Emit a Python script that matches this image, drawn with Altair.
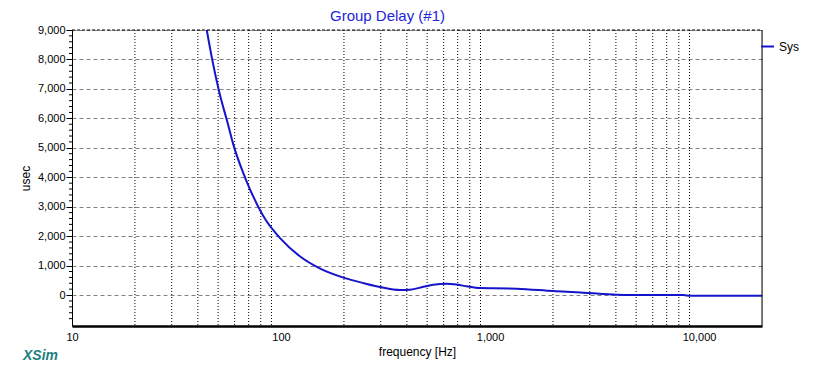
import altair as alt
import pandas as pd

# ---- data ----
freq_hz = [44, 47, 50.6, 55.5, 59.2, 67.2, 77.8, 83.8, 100, 123, 154, 199, 250, 298,
           371, 414, 480, 535, 621, 700, 773, 895, 1000, 1342, 2010, 2794, 3120, 4036,
           5000, 8420, 9060, 20000]
delay_usec = [9050, 7950, 6900, 5850, 5100, 4000, 3000, 2590, 1900, 1316, 898, 592, 400, 272,
              170, 184, 280, 354, 388, 350, 296, 238, 235, 218, 136, 82, 58, 14,
              5, 0, -25, -25]
series_name = ["Sys"]

x_label_values = [10, 100, 1000, 10000]
x_grid_values = [m * d for d in (10, 100, 1000) for m in range(2, 10)]
y_major = list(range(0, 9001, 1000))
y_minor = [v for v in range(-1000, 9001, 200) if v % 1000 != 0]

X_DOMAIN = [10, 20000]
Y_DOMAIN = [-1050, 9000]
W, H = 690, 296
FONT = "Liberation Sans"
LINE_COLOR = "#1414CC"

df = pd.DataFrame({"f": freq_hz, "d": delay_usec, "series": series_name[0]})
grid_df = pd.DataFrame({"f": x_grid_values})
minor_df = pd.DataFrame({"v": y_minor})

xscale = alt.Scale(type="log", domain=X_DOMAIN, nice=False)
yscale = alt.Scale(domain=Y_DOMAIN, nice=False, zero=False)

x_axis = alt.Axis(values=x_label_values, format=",.0f", title="frequency [Hz]",
                  grid=False, ticks=False, labelPadding=5, labelFontSize=11,
                  labelFlush=False, labelOverlap=False,
                  labelFont=FONT, labelColor="#000000", titleFont=FONT,
                  titleFontSize=12, titleFontWeight="normal", titleColor="#000000",
                  titlePadding=4, domainColor="#000000", domainWidth=2.5)
y_axis = alt.Axis(values=y_major, format=",.0f", title="usec", grid=True,
                  gridColor="#808080", gridDash=[4, 3], gridWidth=1,
                  labelOverlap=False, labelFlush=False,
                  tickSize=6, tickColor="#000000", labelPadding=1, labelFontSize=11,
                  labelFont=FONT, labelColor="#000000", titleFont=FONT,
                  titleFontSize=12, titleFontWeight="normal", titleColor="#000000",
                  titlePadding=5, domainColor="#000000", domainWidth=1)

grid = alt.Chart(grid_df).mark_rule(color="#000000", strokeDash=[1, 2], strokeWidth=1).encode(
    x=alt.X("f:Q", scale=xscale, axis=x_axis),
)

minor = alt.Chart(minor_df).mark_rule(color="#000000", strokeWidth=1).encode(
    y=alt.Y("v:Q", scale=yscale, axis=y_axis),
    x=alt.value(-3), x2=alt.value(0),
)

line = alt.Chart(df).mark_line(strokeWidth=2, clip=True, interpolate="monotone").encode(
    x=alt.X("f:Q", scale=xscale, axis=x_axis),
    y=alt.Y("d:Q", scale=yscale, axis=y_axis),
    color=alt.Color("series:N", scale=alt.Scale(range=[LINE_COLOR]),
                    legend=alt.Legend(title=None, orient="none", legendX=688, legendY=9,
                                      symbolType="stroke", symbolSize=169,
                                      symbolStrokeWidth=2, symbolStrokeColor="#000080",
                                      labelFont=FONT, labelFontSize=12,
                                      labelColor="#000000", labelOffset=4, padding=0)),
)

frame_df = pd.DataFrame({"k": [0]})
right_border = alt.Chart(frame_df).mark_rule(color="#000000", strokeWidth=1).encode(
    x=alt.value(W), y=alt.value(0), y2=alt.value(H))
top_border = alt.Chart(frame_df).mark_rule(color="#000000", strokeWidth=1, strokeDash=[3, 2]).encode(
    x=alt.value(0), x2=alt.value(W), y=alt.value(0))

logo = alt.Chart(frame_df).mark_text(text="XSim", font=FONT, fontSize=14, fontStyle="italic",
                                     fontWeight="bold", color="#1E7F7F", align="left",
                                     baseline="alphabetic").encode(
    x=alt.value(-49), y=alt.value(330))

chart = alt.layer(grid, minor, line, right_border, top_border, logo).properties(
    width=W, height=H,
    title=alt.TitleParams("Group Delay (#1)", anchor="start", frame="group", dx=258,
                          font=FONT, fontSize=15, fontWeight="normal", color="#2323D8",
                          offset=0),
    autosize=alt.AutoSizeParams(type="none"),
    padding={"left": 64, "top": 22, "right": 45, "bottom": 37},
).configure_view(stroke=None).configure(background="white")

chart.save("out.html", embed_options={"renderer": "svg", "actions": False})
